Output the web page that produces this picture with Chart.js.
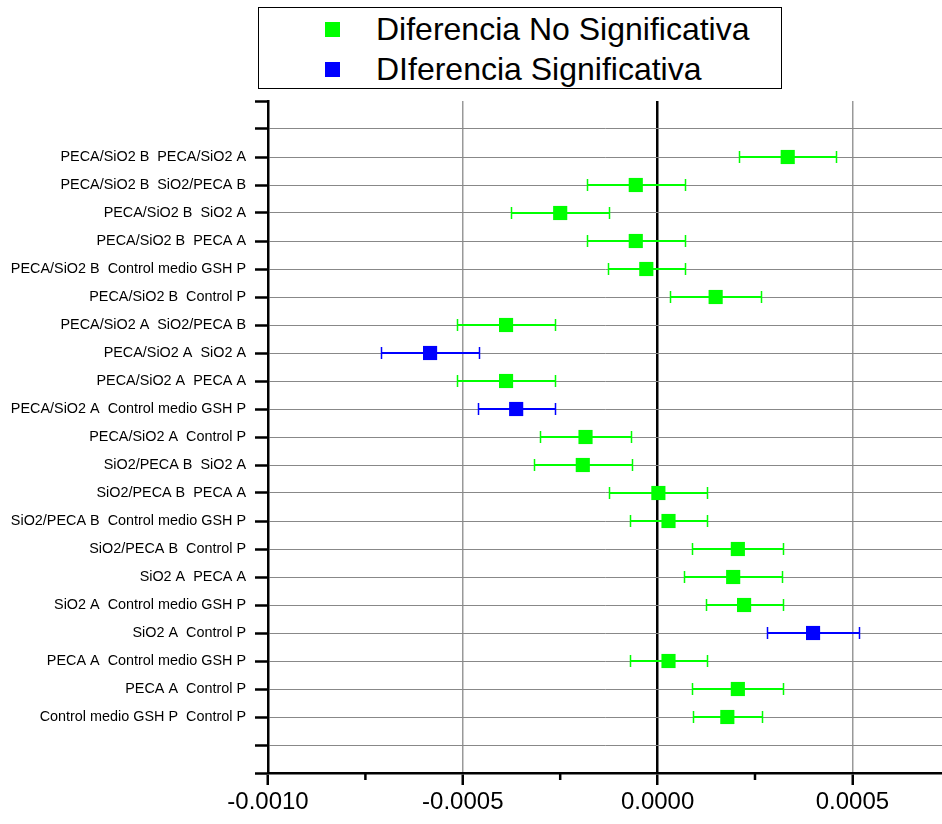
<!DOCTYPE html>
<html>
<head>
<meta charset="utf-8">
<script src="https://cdn.jsdelivr.net/npm/chart.js@4/dist/chart.umd.min.js"></script>
<style>
  body { margin: 0; background: #fff; }
  #wrap { position: relative; width: 942px; height: 824px; }
  #legend {
    position: absolute; left: 258px; top: 7px; width: 522px; height: 80px;
    border: 1px solid #000; background: #fff;
    font-family: 'Liberation Sans', Arial, sans-serif; font-size: 32px; color: #000;
  }
  .item { position: absolute; left: 66px; height: 36px; line-height: 36px; white-space: nowrap; }
  .item span.box { position: absolute; left: 0; top: 11px; width: 15px; height: 15px; }
  .item span.txt { position: absolute; left: 51px; top: 0; }
</style>
</head>
<body>
<div id="wrap">
  <canvas id="chart" width="942" height="824"></canvas>
  <div id="legend"></div>
</div>
<script>
// comparaciones (filas, de arriba hacia abajo)
var comparaciones = [
  'PECA/SiO2 B  PECA/SiO2 A',
  'PECA/SiO2 B  SiO2/PECA B',
  'PECA/SiO2 B  SiO2 A',
  'PECA/SiO2 B  PECA A',
  'PECA/SiO2 B  Control medio GSH P',
  'PECA/SiO2 B  Control P',
  'PECA/SiO2 A  SiO2/PECA B',
  'PECA/SiO2 A  SiO2 A',
  'PECA/SiO2 A  PECA A',
  'PECA/SiO2 A  Control medio GSH P',
  'PECA/SiO2 A  Control P',
  'SiO2/PECA B  SiO2 A',
  'SiO2/PECA B  PECA A',
  'SiO2/PECA B  Control medio GSH P',
  'SiO2/PECA B  Control P',
  'SiO2 A  PECA A',
  'SiO2 A  Control medio GSH P',
  'SiO2 A  Control P',
  'PECA A  Control medio GSH P',
  'PECA A  Control P',
  'Control medio GSH P  Control P'
];
var medias = [0.000334, -0.000056, -0.000250, -0.000056, -0.000029, 0.000149, -0.000389,
  -0.000584, -0.000389, -0.000363, -0.000185, -0.000192, 0.000002, 0.000028, 0.000206,
  0.000194, 0.000222, 0.000399, 0.000028, 0.000206, 0.000179];
var errores = [0.000125, 0.000126, 0.000125, 0.000126, 0.000099, 0.000117, 0.000125,
  0.000125, 0.000125, 0.000099, 0.000117, 0.000126, 0.000126, 0.000099, 0.000117,
  0.000125, 0.000099, 0.000117, 0.000099, 0.000117, 0.000088];
var significativa = [0, 0, 0, 0, 0, 0, 0, 1, 0, 1, 0, 0, 0, 0, 0, 0, 0, 1, 0, 0, 0];
var grupos = ['Diferencia No Significativa', 'DIferencia Significativa'];
var colores = ['#00ff00', '#0000ff'];
var xTicks = [-0.0010, -0.0005, 0.0000, 0.0005];

var nFilas = comparaciones.length;
function filaY(i) { return nFilas + 1 - i; }   // 2 espacios vacios arriba y abajo

var datasets = grupos.map(function (g, k) {
  var pts = [];
  for (var i = 0; i < nFilas; i++) {
    if (significativa[i] === k) pts.push({ x: medias[i], y: filaY(i) });
  }
  return {
    label: g, data: pts, backgroundColor: colores[k], borderColor: colores[k],
    pointStyle: 'rect', pointRadius: 10, pointBorderWidth: 0, showLine: false
  };
});

var errorBars = {
  id: 'errorBars',
  beforeDatasetsDraw: function (chart) {
    var x = chart.scales.x, y = chart.scales.y, ctx = chart.ctx;
    ctx.save();
    for (var i = 0; i < nFilas; i++) {
      var py = Math.round(y.getPixelForValue(filaY(i)));
      var x1 = Math.round(x.getPixelForValue(medias[i] - errores[i])) + 0.5;
      var x2 = Math.round(x.getPixelForValue(medias[i] + errores[i])) + 0.5;
      ctx.strokeStyle = colores[significativa[i]];
      ctx.lineWidth = 2;
      ctx.beginPath();
      ctx.moveTo(x1, py); ctx.lineTo(x2, py);
      ctx.stroke();
      ctx.lineWidth = 1.5;
      ctx.beginPath();
      ctx.moveTo(x1, py - 6); ctx.lineTo(x1, py + 6);
      ctx.moveTo(x2, py - 6); ctx.lineTo(x2, py + 6);
      ctx.stroke();
    }
    ctx.restore();
  }
};

var minorTicks = {
  id: 'minorTicks',
  afterDraw: function (chart) {
    var x = chart.scales.x, ctx = chart.ctx;
    ctx.save();
    ctx.strokeStyle = '#000';
    ctx.lineWidth = 2.5;
    for (var k = 0; k < xTicks.length; k++) {
      var v = xTicks[k] + 0.00025;
      if (v > x.max) continue;
      var px = x.getPixelForValue(v);
      ctx.beginPath();
      ctx.moveTo(px, x.top); ctx.lineTo(px, x.top + 7);
      ctx.stroke();
    }
    ctx.restore();
  }
};

Chart.defaults.font.family = "'Liberation Sans', Arial, sans-serif";
Chart.defaults.color = '#000';

new Chart(document.getElementById('chart').getContext('2d'), {
  type: 'scatter',
  data: { datasets: datasets },
  plugins: [errorBars, minorTicks],
  options: {
    responsive: false,
    animation: false,
    events: [],
    layout: { autoPadding: false, padding: { top: 101, left: 0, right: 0, bottom: 0 } },
    plugins: { legend: { display: false }, tooltip: { enabled: false } },
    scales: {
      x: {
        type: 'linear', min: -0.0010, max: 0.00073,
        afterFit: function (s) { s.height = 51; s.paddingLeft = 0; s.paddingRight = 0; },
        afterBuildTicks: function (s) { s.ticks = xTicks.map(function (v) { return { value: v }; }); },
        border: { color: '#000', width: 2.5 },
        grid: {
          color: function (c) {
            if (!c.tick) return 'transparent';
            if (Math.abs(c.tick.value) < 1e-12) return '#000';
            if (c.tick.value <= -0.001 + 1e-12) return 'transparent';
            return '#999';
          },
          lineWidth: function (c) { return c.tick && Math.abs(c.tick.value) < 1e-12 ? 2.5 : 1.5; },
          tickColor: '#000', tickWidth: 2.5, tickLength: 12
        },
        ticks: {
          padding: 3,
          font: { size: 24 },
          callback: function (v) { return (Math.abs(v) < 1e-12 ? 0 : v).toFixed(4); }
        }
      },
      y: {
        type: 'linear', min: 0, max: nFilas + 3,
        afterFit: function (s) { s.width = 268; s.paddingTop = 0; s.paddingBottom = 0; },
        border: { color: '#000', width: 2.5 },
        grid: {
          color: function (c) { return c.tick && c.tick.value >= nFilas + 3 ? 'transparent' : '#888'; },
          lineWidth: 1,
          tickColor: '#000', tickWidth: 2.5, tickLength: 13
        },
        ticks: {
          stepSize: 1, padding: 9,
          font: { size: 14.4 },
          callback: function (v) {
            var i = nFilas + 1 - v;
            return (i >= 0 && i < nFilas) ? comparaciones[i] : '';
          }
        }
      }
    }
  }
});

// leyenda
var leg = document.getElementById('legend');
grupos.forEach(function (g, k) {
  var d = document.createElement('div');
  d.className = 'item';
  d.style.top = (k === 0 ? 3 : 43) + 'px';
  d.innerHTML = '<span class="box" style="background:' + colores[k] + '"></span><span class="txt">' + g + '</span>';
  leg.appendChild(d);
});
</script>
</body>
</html>
